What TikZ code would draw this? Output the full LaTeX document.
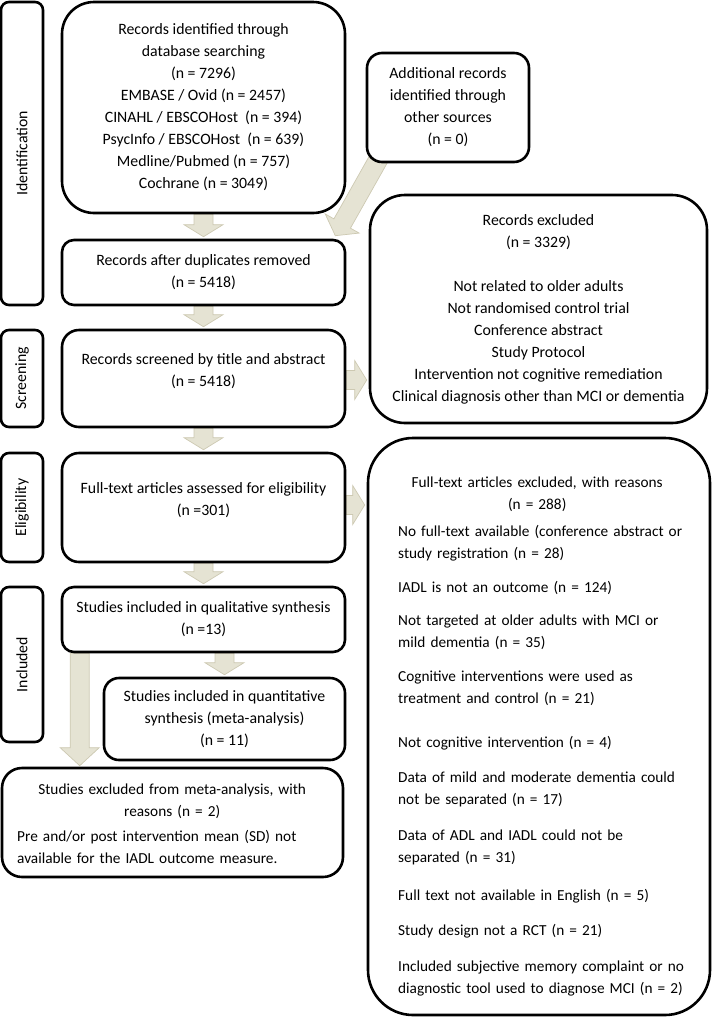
\documentclass[tikz,border=0pt]{standalone}
\usepackage{fontspec}
\setmainfont{Carlito}
\usetikzlibrary{calc,backgrounds}
\definecolor{arrfill}{RGB}{229,227,211}
\definecolor{arredge}{RGB}{205,201,178}
\tikzset{
  box/.style={draw=black, line width=2.6pt, fill=white, inner sep=0pt, align=center,
              font=\fontsize{15.8}{22}\selectfont},
  stage/.style={box, rounded corners=8pt, rotate=90, minimum height=42pt},
  txt/.style={inner sep=0pt, font=\fontsize{15.8}{22}\selectfont},
  listtxt/.style={inner sep=0pt, align=left, anchor=north west, font=\fontsize{15.3}{22}\selectfont},
  barr/.style={fill=arrfill, draw=arredge, line width=0.7pt},
}
% block arrow from tail #2 to tip #3, head length #1
\newcommand{\blockarrow}[3][12pt]{%
  \coordinate (bh) at ($(#3)!#1!(#2)$);
  \draw[barr] ($(#2)!9.5pt!90:(#3)$) -- ($(bh)!9.5pt!90:(#3)$) -- ($(bh)!19.5pt!90:(#3)$) -- (#3)
    -- ($(bh)!19.5pt!-90:(#3)$) -- ($(bh)!9.5pt!-90:(#3)$) -- ($(#2)!9.5pt!-90:(#3)$) -- cycle;}

\begin{document}
\begin{tikzpicture}[x=1pt, y=-1pt]
  \useasboundingbox (0,0) rectangle (712,1018);
  % stage labels
  \node[stage, minimum width=303pt] (sIdent) at (22,153.5) {Identification};
  \node[stage, minimum width=97pt] (sScreen) at (22,378.5) {Screening};
  \node[stage, minimum width=109pt] (sElig) at (22,507.5) {Eligibility};
  \node[stage, minimum width=155pt] (sIncl) at (22,664.5) {Included};
  % boxes
  \node[box, rounded corners=32pt, minimum width=283pt, minimum height=211pt] (ident) at (203.5,107.5)
    {Records identified through\\database searching\\(n = 7296)\\EMBASE / Ovid (n = 2457)\\CINAHL / EBSCOHost\ \ (n = 394)\\PsycInfo / EBSCOHost\ \ (n = 639)\\Medline/Pubmed (n = 757)\\Cochrane (n = 3049)};
  \node[box, rounded corners=15pt, minimum width=162pt, minimum height=109pt] (addl) at (448,107.5)
    {Additional records\\identified through\\other sources\\(n = 0)};
  \node[box, rounded corners=12pt, minimum width=283pt, minimum height=65pt] (dup) at (203.5,272.5)
    {Records after duplicates removed\\(n = 5418)};
  \node[box, rounded corners=17pt, minimum width=283pt, minimum height=97pt] (scr) at (203.5,378.5) {};
  \node[txt, align=center] (scrtxt) at ($(scr.center)+(0,-7)$) {Records screened by title and abstract\\(n = 5418)};
  \node[box, rounded corners=35pt, minimum width=337pt, minimum height=228pt] (recexcl) at (538.5,309)
    {Records excluded\\(n = 3329)\\[22pt]Not related to older adults\\Not randomised control trial\\Conference abstract\\Study Protocol\\Intervention not cognitive remediation\\Clinical diagnosis other than MCI or dementia};
  \node[box, rounded corners=17pt, minimum width=283pt, minimum height=109pt] (elig) at (203.5,507.5) {};
  \node[txt, align=center] (eligtxt) at ($(elig.center)+(0,-7)$) {Full-text articles assessed for eligibility\\(n =301)};
  \node[box, rounded corners=45pt, minimum width=342pt, minimum height=577pt] (ftexcl) at (539,726.5) {};
  \node[listtxt, text width=300pt] (fttxt) at (398,477) {%
    {\centering\rightskip=22pt plus 1fil Full-text articles excluded, with reasons\\(n = 288)\par}\vspace{5pt}
    No full-text available (conference abstract or\\study registration (n = 28)\\[12pt]
    IADL is not an outcome (n = 124)\\[11pt]
    Not targeted at older adults with MCI or\\mild dementia (n = 35)\\[12pt]
    Cognitive interventions were used as\\treatment and control (n = 21)\\[22pt]
    Not cognitive intervention (n = 4)\\[13pt]
    Data of mild and moderate dementia could\\not be separated (n = 17)\\[14pt]
    Data of ADL and IADL could not be\\separated (n = 31)\\[16pt]
    Full text not available in English (n = 5)\\[13pt]
    Study design not a RCT (n = 21)\\[14pt]
    Included subjective memory complaint or no\\diagnostic tool used to diagnose MCI (n = 2)};
  \node[box, rounded corners=12pt, minimum width=283pt, minimum height=65pt] (qual) at (203.5,619.5)
    {Studies included in qualitative synthesis\\(n =13)};
  \node[box, rounded corners=15pt, minimum width=241pt, minimum height=82pt] (quant) at (224.5,719)
    {Studies included in quantitative\\synthesis (meta-analysis)\\(n = 11)};
  \node[box, rounded corners=20pt, minimum width=341pt, minimum height=109pt] (meta) at (172.5,822.5) {};
  \node[listtxt, text width=310pt] (metatxt) at (17,784) {%
    {\centering Studies excluded from meta-analysis, with\\reasons (n = 2)\par}\vspace{3pt}
    Pre and/or post intervention mean (SD) not\\available for the IADL outcome measure.};
  % block arrows
  \begin{scope}[on background layer]
    \coordinate (t1) at (ident.south); \coordinate (h1) at ([yshift=2pt]dup.north);
    \blockarrow{t1}{h1}
    \coordinate (t2) at ($(addl.south west)+(15.5,-9)$); \coordinate (h2) at ($(dup.north east)+(-11,-3)$);
    \blockarrow[14pt]{t2}{h2}
    \coordinate (t3) at (dup.south); \coordinate (h3) at ([yshift=2pt]scr.north);
    \blockarrow{t3}{h3}
    \coordinate (t4) at (scr.south); \coordinate (h4) at ([yshift=2pt]elig.north);
    \blockarrow{t4}{h4}
    \coordinate (t5) at ([yshift=-1.5pt]scr.east); \coordinate (h5) at ($(t5 -| recexcl.west)+(-2,0)$);
    \blockarrow{t5}{h5}
    \coordinate (t6) at ([yshift=2.5pt]elig.east); \coordinate (h6) at ($(t6 -| ftexcl.west)+(-2,0)$);
    \blockarrow{t6}{h6}
    \coordinate (t7) at (elig.south); \coordinate (h7) at ([yshift=2pt]qual.north);
    \blockarrow{t7}{h7}
    \coordinate (t8) at (quant.north |- qual.south); \coordinate (h8) at ([yshift=2pt]quant.north);
    \blockarrow{t8}{h8}
    \coordinate (t9) at ($(qual.south west)+(19,0)$); \coordinate (h9) at ($(meta.north west)+(79,-1)$);
    \blockarrow[18pt]{t9}{h9}
  \end{scope}
\end{tikzpicture}
\end{document}
